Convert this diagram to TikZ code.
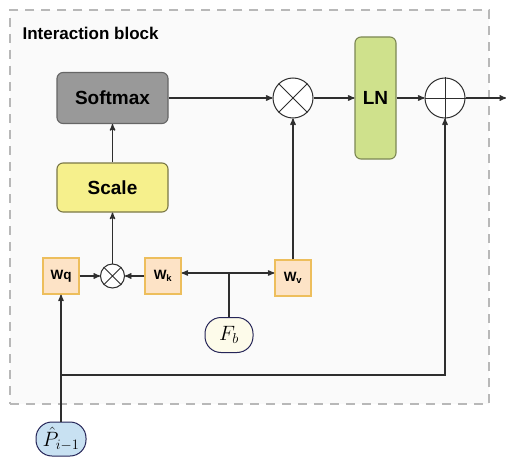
\documentclass[tikz,border=0pt]{standalone}
\usepackage{fontspec}
\setsansfont{Liberation Sans}
\usetikzlibrary{arrows,chains,positioning,scopes}
\definecolor{smgray}{HTML}{999999}
\definecolor{scyel}{HTML}{F6F08C}
\definecolor{lngreen}{HTML}{CFE18C}
\definecolor{wfill}{HTML}{FDE3C6}
\definecolor{wdraw}{HTML}{EDBE5C}
\definecolor{fbfill}{HTML}{FDFBEA}
\definecolor{pfill}{HTML}{C8E1F2}
\definecolor{framegray}{HTML}{B8B8B8}
\definecolor{wirecol}{HTML}{2E2E2E}
\tikzset{
  blk/.style={draw=#1, rounded corners=6pt, line width=1.1pt,
    font=\sffamily\bfseries\fontsize{19}{19}\selectfont},
  wbox/.style={draw=wdraw, fill=wfill, line width=1.3pt, minimum size=36pt,
    inner sep=0pt, font=\sffamily\bfseries\fontsize{13.5}{13.5}\selectfont},
  op/.style={circle, draw=wirecol, fill=white, line width=1pt, inner sep=0pt,
    minimum size=#1},
  inp/.style={draw=wirecol!80!blue, rounded corners=16pt, line width=1pt,
    inner sep=1pt, font=\fontsize{22}{22}\selectfont},
  wire/.style={draw=wirecol, line width=1.3pt}
}
\tikzset{>=stealth', every join/.style={->, wire}}

\begin{document}
\begin{tikzpicture}[x=1pt, y=-1pt]
	\useasboundingbox (0,0) rectangle (506,460);

	% dashed block frame
	\node[draw=framegray, dash pattern=on 9pt off 7pt, line width=2.4pt,
	      fill=black!2, minimum width=479pt, minimum height=394pt] (frame) at (249.5,207) {};
	\node[anchor=west, font=\sffamily\bfseries\fontsize{17}{17}\selectfont]
	     (title) at (19,33) {Interaction block};

	% upper row
	\node[blk=black!60, fill=smgray, minimum width=111pt, minimum height=51pt] (sm) at (112.5,98) {Softmax};
	\node[blk=scyel!50!black, fill=scyel, minimum width=111pt, minimum height=49pt] (sc) at (112.5,187.5) {Scale};
	\node[op=40pt] (mul) at (293,98) {};
	\node[blk=lngreen!60!black, fill=lngreen, minimum width=41pt, minimum height=122pt] (ln) at (375.5,98) {LN};
	\node[op=40pt] (add) at (445,98) {};
	\coordinate (out) at (506,98);
	\draw[wire, line width=1pt] (mul.45) -- (mul.225) (mul.135) -- (mul.315);
	\draw[wire, line width=1pt] (add.north) -- (add.south) (add.west) -- (add.east);

	% lower row
	\node[wbox] (wq) at (61,276) {Wq};
	\node[op=24pt] (qk) at (112.5,276) {};
	\draw[wire, line width=1pt] (qk.45) -- (qk.225) (qk.135) -- (qk.315);
	\node[wbox] (wk) at (163,276) {W\textsubscript{k}};
	\node[wbox] (wv) at (293,278) {W\textsubscript{v}};
	\coordinate (fj) at (229,273);

	% inputs
	\node[inp, fill=fbfill, minimum width=48pt, minimum height=35pt] (fb) at (229,335) {$F_b$};
	\node[inp, fill=pfill, minimum width=50pt, minimum height=34pt] (p) at (61,439) {$\hat{P}_{i-1}$};
	\coordinate (pj) at (61,375);

	{ [start chain]
		\chainin (sm);
		\chainin (mul) [join];
		\chainin (ln) [join];
		\chainin (add) [join];
	}
	\draw[wire, ->] (qk) -- (sc);
	\draw[wire, ->] (sc) -- (sm);
	\draw[wire, ->] (add) -- (out);
	\draw[wire, ->] (wq) -- (qk);
	\draw[wire, ->] (wk) -- (qk);
	\draw[wire, ->] (wv) -- (mul);
	\draw[wire] (fb) -- (fj);
	\draw[wire, ->] (fj) -- (wk.east |- fj);
	\draw[wire, ->] (fj) -- (wv.west |- fj);
	\draw[wire, ->] (p) -- (wq);
	\draw[wire, ->] (pj) -| (add);
\end{tikzpicture}
\end{document}
